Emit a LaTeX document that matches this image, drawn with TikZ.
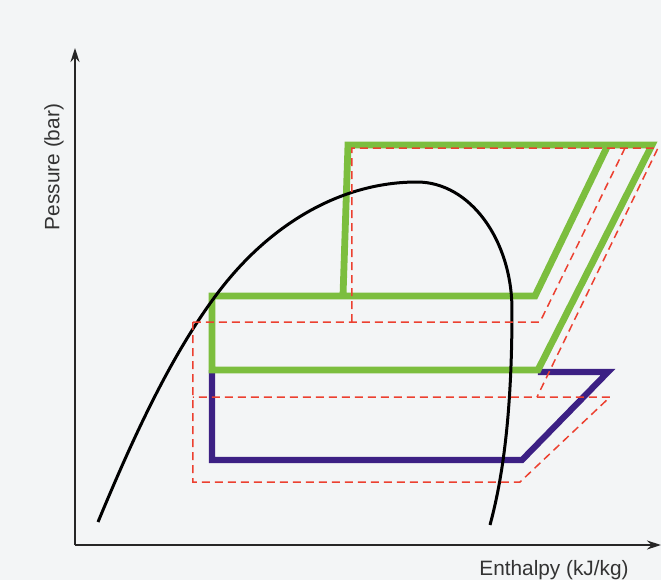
\documentclass[tikz,border=0pt]{standalone}
\usepackage{fontspec}
\setmainfont{Liberation Sans}
\usetikzlibrary{arrows.meta}
\definecolor{bgcol}{RGB}{243,245,246}
\definecolor{cycgreen}{RGB}{124,190,62}
\definecolor{cycblue}{RGB}{60,32,132}
\definecolor{cycred}{RGB}{236,64,48}
\tikzset{
	>={Stealth[length=7pt,width=4.5pt]},
	line join=round,
}

\begin{document}
\begin{tikzpicture}[
    x=0.5pt,
    y=-0.5pt,
    axis/.style={draw=black!85, line width=0.7pt, ->},
    dome/.style={draw=black, line width=1.5pt},
    hpcyc/.style={draw=cycgreen, line width=3.4pt},
    lpcyc/.style={draw=cycblue, line width=3.1pt},
    refcyc/.style={draw=cycred, line width=0.75pt, dash pattern=on 4pt off 2.5pt},
    lbl/.style={text=black!80, font=\fontsize{10.4}{12}\selectfont}
]

% --- background ---
\fill[bgcol] (0,0) rectangle (661,580);
\useasboundingbox (0,0) rectangle (661,580);

% --- axes ---
\coordinate (O) at (75,545);
\coordinate (ytop) at (75,48);
\coordinate (xend) at (661,545);
\draw[axis] (O) -- (ytop);
\draw[axis] (O) -- (xend);

\node[lbl, rotate=90] (ylabel) at (54,167) {Pessure (bar)};
\node[lbl] (xlabel) at (554,570) {Enthalpy (kJ/kg)};

% --- low pressure stage ---
\draw[lpcyc] (212,370) -- (212,460) -- (522,460) -- (608,372) -- (538,372);

% --- high pressure stage ---
\draw[hpcyc] (608,145) -- (535,296) -- (212,296) -- (212,370) -- (538,370)
-- (652,145) -- (348,145) -- (343,296);

% --- saturation dome ---
\draw[dome] (98,522) .. controls (130,445) and (170,355) .. (220,290)
.. controls (270,225) and (340,182) .. (417,182)
.. controls (470,182) and (512,240) .. (512,310)
.. controls (512,400) and (505,470) .. (490,525);

% --- reference cycle (dashed) ---
\draw[refcyc] (193,322) -- (540,322) -- (625,148);
\draw[refcyc] (352,322) -- (352,148) -- (658,148) -- (537,397);
\draw[refcyc] (193,322) -- (193,482) -- (520,482) -- (610,397) -- (193,397);
\end{tikzpicture}
\end{document}
